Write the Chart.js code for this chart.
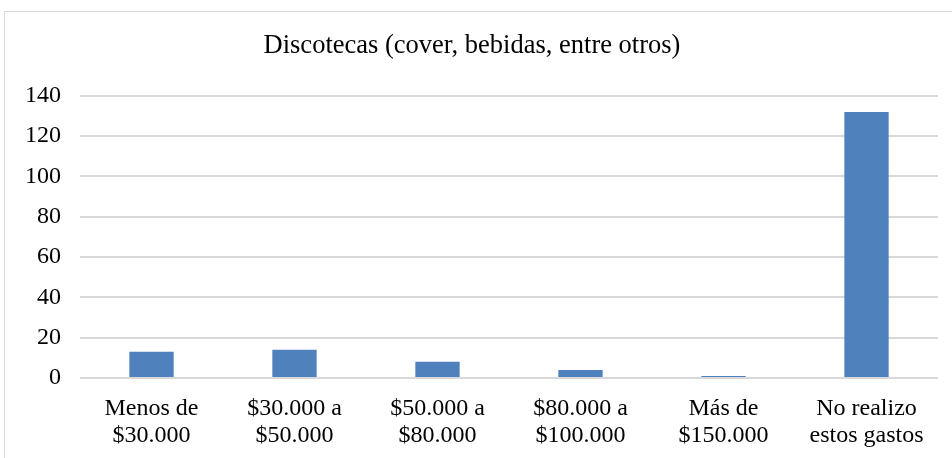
<!DOCTYPE html>
<html>
<head>
<meta charset="utf-8">
<script src="https://cdn.jsdelivr.net/npm/chart.js@4"></script>
<style>
  body { margin: 0; background: #fff; overflow: hidden; }
  #frame { position: absolute; left: 4px; top: 11px; width: 970px; height: 470px; border: 1px solid #d9d9d9; }
  #wrap { position: absolute; left: 0; top: 0; width: 952px; height: 458px; }
</style>
</head>
<body>
<div id="frame"></div>
<div id="wrap"><canvas id="myChart"></canvas></div>
<script>
const categories = [
  ['Menos de', '$30.000'],
  ['$30.000 a', '$50.000'],
  ['$50.000 a', '$80.000'],
  ['$80.000 a', '$100.000'],
  ['Más de', '$150.000'],
  ['No realizo', 'estos gastos']
]
const values = [13, 14, 8, 4, 1, 132]
const yTicks = [0, 20, 40, 60, 80, 100, 120, 140]
const titleText = 'Discotecas (cover, bebidas, entre otros)'

const serif = "'Liberation Serif', 'Times New Roman', serif"

var ctx = document.getElementById('myChart').getContext('2d')
var chart = new Chart(ctx, {
  type: 'bar',
  data: {
    labels: categories,
    datasets: [{
      data: values,
      backgroundColor: '#4f81bd',
      borderWidth: 0,
      barPercentage: 0.31,
      categoryPercentage: 1
    }]
  },
  options: {
    responsive: true,
    maintainAspectRatio: false,
    animation: false,
    layout: { padding: { left: 6, right: 14, top: 30, bottom: 0 } },
    plugins: {
      legend: { display: false },
      tooltip: { enabled: false },
      title: {
        display: true,
        text: titleText,
        color: '#000',
        font: { family: serif, size: 26.5, weight: 'normal' },
        padding: { top: 0, bottom: 34 }
      }
    },
    scales: {
      x: {
        grid: { display: false },
        border: { display: false },
        afterFit: function (axis) { axis.height = 80 },
        ticks: {
          color: '#000',
          font: { family: serif, size: 24, lineHeight: 1.1 },
          maxRotation: 0,
          padding: 10
        }
      },
      y: {
        min: yTicks[0],
        max: yTicks[yTicks.length - 1],
        afterBuildTicks: function (axis) {
          axis.ticks = yTicks.map(function (v) { return { value: v } })
        },
        grid: { color: '#d9d9d9', lineWidth: 2, drawTicks: false },
        border: { display: false },
        ticks: {
          color: '#000',
          font: { family: serif, size: 24 },
          padding: 19
        }
      }
    }
  }
})
</script>
</body>
</html>
